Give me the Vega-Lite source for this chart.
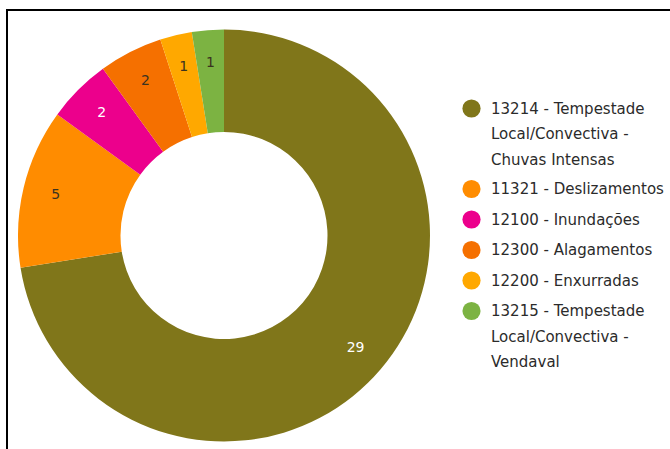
{
  "$schema": "https://vega.github.io/schema/vega-lite/v6.json",
  "width": 665,
  "height": 441,
  "autosize": {"type": "none"},
  "padding": {"left": 7, "top": 10, "right": 0, "bottom": 0},
  "background": "white",
  "view": {"stroke": "#000000", "strokeWidth": 2},
  "config": {
    "view": {"stroke": "#000000", "strokeWidth": 2},
    "style": {"guide-label": {"lineHeight": 25.5}}
  },
  "data": {
    "values": [
      {"ocorrencia": "13214 - Tempestade Local/Convectiva - Chuvas Intensas", "quantidade": 29, "ordem": 1},
      {"ocorrencia": "11321 - Deslizamentos", "quantidade": 5, "ordem": 2},
      {"ocorrencia": "12100 - Inundações", "quantidade": 2, "ordem": 3},
      {"ocorrencia": "12300 - Alagamentos", "quantidade": 2, "ordem": 4},
      {"ocorrencia": "12200 - Enxurradas", "quantidade": 1, "ordem": 5},
      {"ocorrencia": "13215 - Tempestade Local/Convectiva - Vendaval", "quantidade": 1, "ordem": 6}
    ]
  },
  "encoding": {
    "theta": {"field": "quantidade", "type": "quantitative", "stack": true},
    "order": {"field": "ordem", "type": "quantitative"}
  },
  "layer": [
    {
      "mark": {"type": "arc", "outerRadius": 206, "innerRadius": 103.5, "x": 217, "y": 225.5},
      "encoding": {
        "color": {
          "field": "ocorrencia",
          "type": "nominal",
          "scale": {
            "domain": [
              "13214 - Tempestade Local/Convectiva - Chuvas Intensas",
              "11321 - Deslizamentos",
              "12100 - Inundações",
              "12300 - Alagamentos",
              "12200 - Enxurradas",
              "13215 - Tempestade Local/Convectiva - Vendaval"
            ],
            "range": ["#80761a", "#ff8c00", "#ec008c", "#f57000", "#ffa800", "#7cb342"]
          },
          "legend": {
            "title": null,
            "orient": "none",
            "legendX": 455,
            "legendY": 89,
            "padding": 0,
            "symbolType": "circle",
            "symbolSize": 330,
            "symbolStrokeWidth": 0,
            "labelFont": "DejaVu Sans",
            "labelFontSize": 15,
            "labelColor": "#2b2b2b",
            "labelOffset": 10,
            "labelLimit": 400,
            "rowPadding": 11.5,
            "labelExpr": "split(replace(replace(datum.label, 'Tempestade ', 'Tempestade|'), 'Convectiva - ', 'Convectiva -|'), '|')"
          }
        }
      }
    },
    {
      "mark": {"type": "text", "radius": 173, "x": 217, "y": 225.5, "font": "DejaVu Sans", "fontSize": 14},
      "encoding": {
        "text": {"field": "quantidade", "type": "quantitative"},
        "color": {
          "condition": {"test": "datum.ordem == 1 || datum.ordem == 3", "value": "#ffffff"},
          "value": "#3a3320"
        }
      }
    }
  ]
}
